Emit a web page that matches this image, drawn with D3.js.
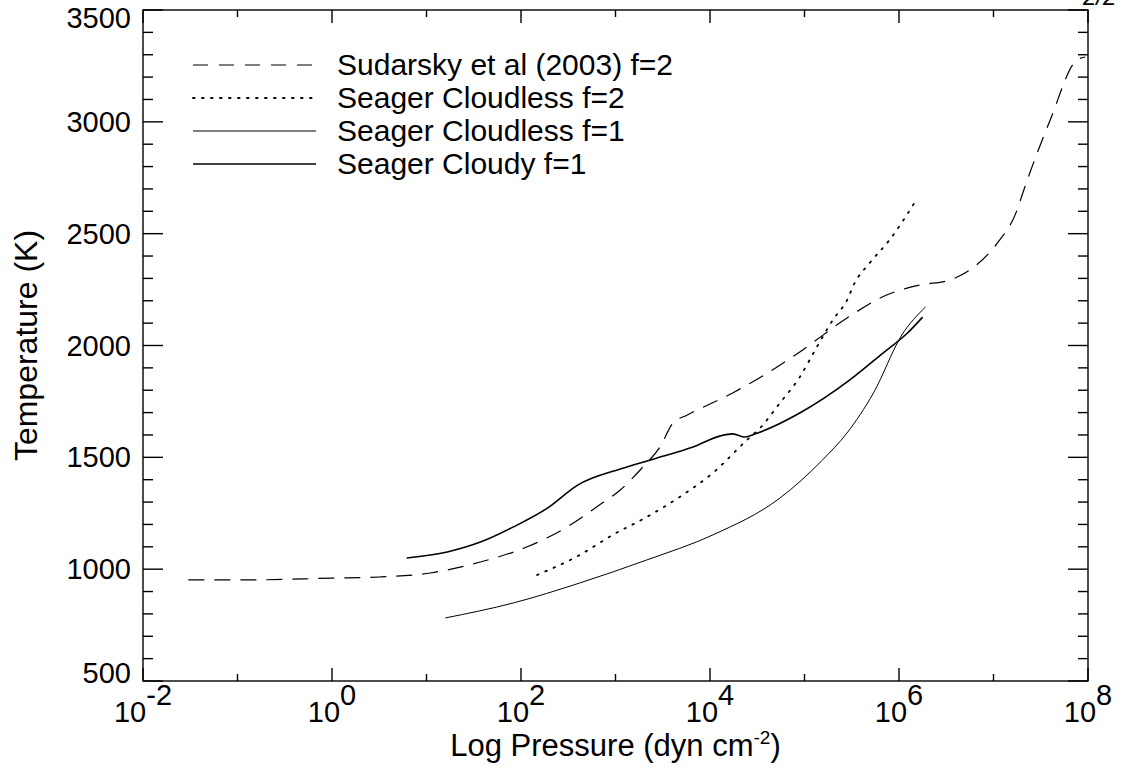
<!DOCTYPE html>
<html>
<head>
<meta charset="utf-8">
<script src="https://cdn.jsdelivr.net/npm/d3@7"></script>
<style>
  html, body { margin: 0; padding: 0; background: #fff; }
  svg { display: block; font-family: "Liberation Sans", Arial, Helvetica, sans-serif; }
</style>
</head>
<body>
<svg id="chart" width="1127" height="766"></svg>
<script>
// ---------- data (log10 pressure in dyn cm^-2, temperature in K) ----------
const sudarskyLogP = [-1.52, -0.87, 0.0, 0.51, 1.04, 1.57, 2.06, 2.49, 2.80, 3.05, 3.29, 3.47, 3.61, 3.76, 4.24, 4.71, 4.95, 5.45, 5.87, 6.22, 6.54, 6.78, 7.04, 7.25, 7.31, 7.60, 7.88, 7.97];
const sudarskyT    = [952, 952, 960, 965, 983, 1032, 1099, 1189, 1278, 1354, 1457, 1546, 1654, 1689, 1788, 1904, 1971, 2123, 2226, 2270, 2293, 2347, 2458, 2606, 2682, 3008, 3276, 3290];

const cloudlessF2LogP = [2.17, 2.62, 2.97, 3.33, 3.68, 4.03, 4.39, 4.53, 4.74, 4.95, 5.13, 5.30, 5.45, 5.53, 5.69, 5.90, 6.17];
const cloudlessF2T    = [974, 1063, 1153, 1233, 1323, 1430, 1577, 1631, 1743, 1859, 1993, 2114, 2203, 2279, 2369, 2472, 2642];

const cloudlessF1LogP = [1.20, 1.92, 2.62, 3.33, 4.03, 4.74, 5.19, 5.45, 5.73, 6.03, 6.28];
const cloudlessF1T    = [782, 849, 938, 1041, 1153, 1318, 1488, 1609, 1788, 2047, 2172];

const cloudyF1LogP = [0.79, 1.22, 1.57, 1.92, 2.28, 2.60, 3.05, 3.44, 3.82, 4.11, 4.24, 4.37, 4.48, 4.95, 5.48, 5.83, 6.09, 6.25];
const cloudyF1T    = [1050, 1077, 1121, 1189, 1273, 1376, 1448, 1497, 1546, 1596, 1605, 1591, 1605, 1698, 1846, 1966, 2056, 2127];

const seriesNames = ["Sudarsky et al (2003) f=2", "Seager Cloudless f=2", "Seager Cloudless f=1", "Seager Cloudy f=1"];

const xMajorExponents = [-2, 0, 2, 4, 6, 8];
const xMinorExponents = [-1, 1, 3, 5, 7];
const yMajorTicks = [500, 1000, 1500, 2000, 2500, 3000, 3500];
const yMinorTicks = d3.range(600, 3500, 100).filter(v => v % 500 !== 0);

const xTitle = "Log Pressure (dyn cm";
const xTitleSup = "-2";
const yTitle = "Temperature (K)";
const pageMark = "2/2";

// ---------- layout ----------
const svg = d3.select("#chart");
const L = 143, R = 1088, T = 10, B = 681;

const x = d3.scaleLog().domain([1e-2, 1e8]).range([L, R]);
const y = d3.scaleLinear().domain([500, 3500]).range([B, T]);

const series = [
  { name: seriesNames[0], p: sudarskyLogP, t: sudarskyT, dash: "16,10", w: 1.2, dot: false },
  { name: seriesNames[1], p: cloudlessF2LogP, t: cloudlessF2T, dash: "1.6,7.4", w: 1.8, dot: true },
  { name: seriesNames[2], p: cloudlessF1LogP, t: cloudlessF1T, dash: null, w: 1.0, dot: false },
  { name: seriesNames[3], p: cloudyF1LogP, t: cloudyF1T, dash: null, w: 1.6, dot: false }
];

// ---------- curves ----------
const line = d3.line()
  .x(d => x(Math.pow(10, d[0])))
  .y(d => y(d[1]))
  .curve(d3.curveMonotoneX);

const plot = svg.append("g");
series.forEach(s => {
  const pts = s.p.map((p, i) => [p, s.t[i]]);
  plot.append("path")
    .attr("d", line(pts))
    .attr("fill", "none")
    .attr("stroke", "#000")
    .attr("stroke-width", s.w)
    .attr("stroke-linecap", s.dot ? "round" : "butt")
    .attr("stroke-dasharray", s.dash);
});

// ---------- frame & ticks ----------
const ax = svg.append("g").attr("stroke", "#000").attr("stroke-width", 1.4).attr("fill", "none");
ax.append("rect").attr("x", L).attr("y", T).attr("width", R - L).attr("height", B - T);

const xMajLen = 13, xMinLen = 7, yMajLen = 20, yMinLen = 10;
xMajorExponents.forEach(e => {
  const px = x(Math.pow(10, e));
  ax.append("line").attr("x1", px).attr("x2", px).attr("y1", B).attr("y2", B - xMajLen);
  ax.append("line").attr("x1", px).attr("x2", px).attr("y1", T).attr("y2", T + xMajLen);
});
xMinorExponents.forEach(e => {
  const px = x(Math.pow(10, e));
  ax.append("line").attr("x1", px).attr("x2", px).attr("y1", B).attr("y2", B - xMinLen);
  ax.append("line").attr("x1", px).attr("x2", px).attr("y1", T).attr("y2", T + xMinLen);
});
yMajorTicks.forEach(v => {
  const py = y(v);
  ax.append("line").attr("x1", L).attr("x2", L + yMajLen).attr("y1", py).attr("y2", py);
  ax.append("line").attr("x1", R).attr("x2", R - yMajLen).attr("y1", py).attr("y2", py);
});
yMinorTicks.forEach(v => {
  const py = y(v);
  ax.append("line").attr("x1", L).attr("x2", L + yMinLen).attr("y1", py).attr("y2", py);
  ax.append("line").attr("x1", R).attr("x2", R - yMinLen).attr("y1", py).attr("y2", py);
});

// ---------- tick labels ----------
const tickFont = 29;
xMajorExponents.forEach(e => {
  const t = svg.append("text")
    .attr("x", x(Math.pow(10, e)))
    .attr("y", 722)
    .attr("text-anchor", "middle")
    .attr("font-size", tickFont)
    .attr("fill", "#000");
  t.append("tspan").text("10");
  t.append("tspan").attr("dy", -17).text(String(e));
});
yMajorTicks.forEach((v, i) => {
  let py = y(v) + 10;
  if (i === 0) py -= 8;
  if (i === yMajorTicks.length - 1) py += 8;
  svg.append("text")
    .attr("x", 131)
    .attr("y", py)
    .attr("text-anchor", "end")
    .attr("font-size", tickFont)
    .attr("fill", "#000")
    .text(v);
});

// ---------- axis titles ----------
const xt = svg.append("text")
  .attr("x", (L + R) / 2)
  .attr("y", 756)
  .attr("text-anchor", "middle")
  .attr("font-size", 31)
  .attr("fill", "#000");
xt.append("tspan").text(xTitle);
xt.append("tspan").attr("dy", -12).attr("font-size", 19).text(xTitleSup);
xt.append("tspan").attr("dy", 12).text(")");

svg.append("text")
  .attr("transform", `translate(37,${(T + B) / 2}) rotate(-90)`)
  .attr("text-anchor", "middle")
  .attr("font-size", 32)
  .attr("fill", "#000")
  .text(yTitle);

// ---------- legend ----------
const legendY0 = 65, legendDY = 33;
series.forEach((s, i) => {
  const ly = legendY0 + i * legendDY;
  svg.append("line")
    .attr("x1", 193).attr("x2", 316).attr("y1", ly).attr("y2", ly)
    .attr("stroke", "#000")
    .attr("stroke-width", s.w)
    .attr("stroke-linecap", s.dot ? "round" : "butt")
    .attr("stroke-dasharray", s.dot ? s.dash : (s.dash ? "15,11" : null));
  svg.append("text")
    .attr("x", 337).attr("y", ly + 10)
    .attr("font-size", 30)
    .attr("fill", "#000")
    .text(s.name);
});

// ---------- page mark (clipped at top, as in the reference) ----------
svg.append("text")
  .attr("x", 1083).attr("y", 5)
  .attr("font-size", 24)
  .attr("font-style", "italic")
  .attr("fill", "#000")
  .text(pageMark);
</script>
</body>
</html>
